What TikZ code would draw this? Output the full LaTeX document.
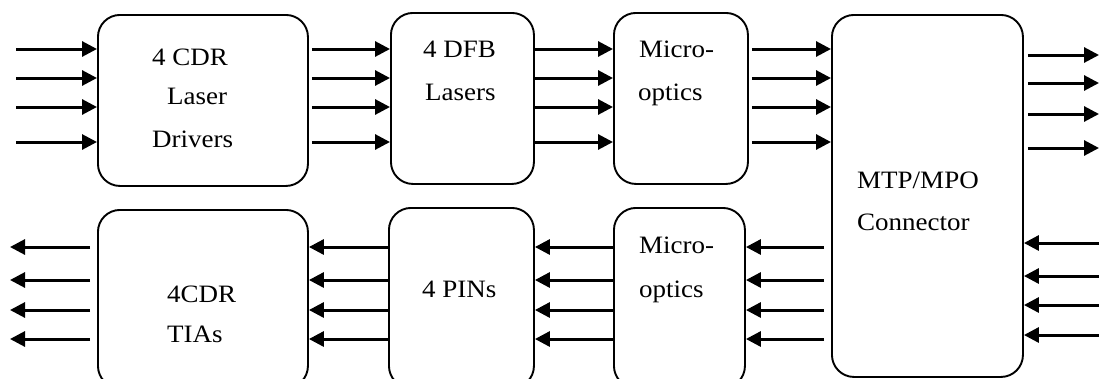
\documentclass[tikz,border=0pt]{standalone}
\usepackage{fontspec}
\setmainfont{Liberation Serif}
\usetikzlibrary{arrows.meta}
\begin{document}
\begin{tikzpicture}[x=1pt,y=-1pt,
  block/.style={draw,line width=1.9pt,rounded corners=22pt,inner sep=0pt,anchor=north west},
  lbl/.style={anchor=base west,inner sep=0pt,xscale=1.08,font=\fontsize{25}{30}\selectfont},
  sig/.style={line width=3pt,-{Triangle[length=15pt,width=15pt]}}]
\useasboundingbox (0,0) rectangle (1099,378);
\clip (0,0) rectangle (1099,378);

% transmit chain
\node[block,minimum width=210pt,minimum height=171pt] (drv) at (97,14) {};
\node[block,minimum width=143pt,minimum height=171pt] (dfb) at (390,12) {};
\node[block,minimum width=134pt,minimum height=171pt] (mot) at (613,12) {};
% fibre connector
\node[block,minimum width=191pt,minimum height=362pt] (mtp) at (831,14) {};
% receive chain
\node[block,minimum width=210pt,minimum height=178pt] (tia) at (97,209) {};
\node[block,minimum width=145pt,minimum height=180pt] (pin) at (388,207) {};
\node[block,minimum width=131pt,minimum height=180pt] (mor) at (613,207) {};

% labels
\node[lbl] (drvA) at (152,65) {4 CDR};
\node[lbl] (drvB) at (167,104) {Laser};
\node[lbl] (drvC) at (152,147) {Drivers};
\node[lbl] (dfbA) at (423,57) {4 DFB};
\node[lbl] (dfbB) at (425,100) {Lasers};
\node[lbl] (motA) at (639,57) {Micro-};
\node[lbl] (motB) at (638,100) {optics};
\node[lbl] (mtpA) at (857,188) {MTP/MPO};
\node[lbl] (mtpB) at (857,230) {Connector};
\node[lbl] (morA) at (639,253) {Micro-};
\node[lbl] (morB) at (639,297) {optics};
\node[lbl] (pinA) at (422,297) {4 PINs};
\node[lbl] (tiaA) at (167,302) {4CDR};
\node[lbl] (tiaB) at (167,342) {TIAs};

% lane levels and free ends
\coordinate (s1) at (16,49);   \coordinate (s2) at (16,78);
\coordinate (s3) at (16,107);  \coordinate (s4) at (16,142);
\coordinate (o1) at (1099,55); \coordinate (o2) at (1099,83);
\coordinate (o3) at (1099,114);\coordinate (o4) at (1099,148);
\coordinate (i1) at (1099,243);\coordinate (i2) at (1099,276);
\coordinate (i3) at (1099,305);\coordinate (i4) at (1099,335);
\coordinate (l1) at (10,247);  \coordinate (l2) at (10,280);
\coordinate (l3) at (10,310);  \coordinate (l4) at (10,339);

\foreach \k in {1,2,3,4}{
  % transmit lanes
  \draw[sig] (s\k) -- (drv.west |- s\k);
  \draw[sig,shorten <=3pt] (drv.east |- s\k) -- (dfb.west |- s\k);
  \draw[sig] (dfb.east |- s\k) -- (mot.west |- s\k);
  \draw[sig,shorten <=3pt] (mot.east |- s\k) -- (mtp.west |- s\k);
  \draw[sig,shorten <=4pt] (mtp.east |- o\k) -- (o\k);
  % receive lanes
  \draw[sig] (i\k) -- (mtp.east |- i\k);
  \draw[sig,shorten <=7pt] (mtp.west |- l\k) -- (mor.east |- l\k);
  \draw[sig] (mor.west |- l\k) -- (pin.east |- l\k);
  \draw[sig] (pin.west |- l\k) -- (tia.east |- l\k);
  \draw[sig,shorten <=7pt] (tia.west |- l\k) -- (l\k);
}
\end{tikzpicture}
\end{document}
